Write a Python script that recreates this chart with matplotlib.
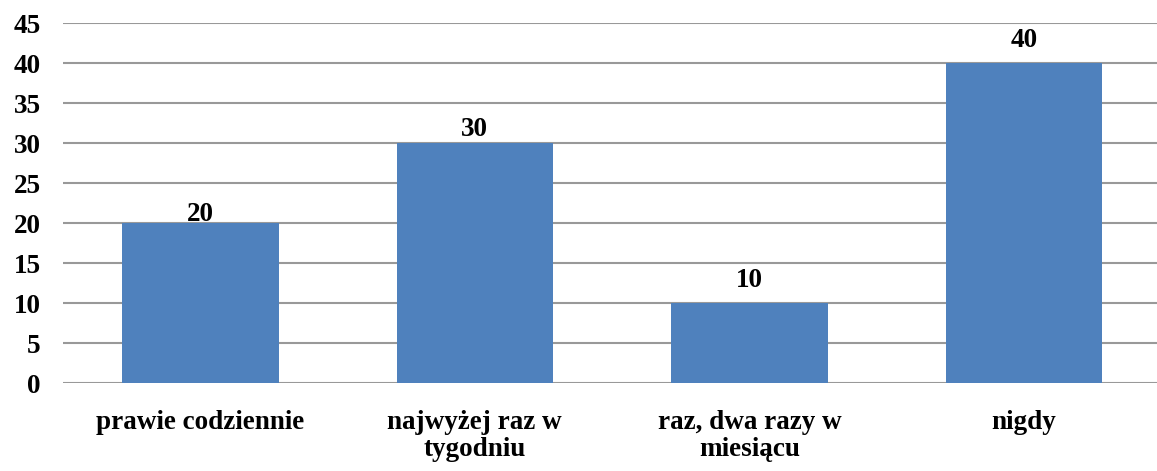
import matplotlib.pyplot as plt
import numpy as np

categories = ['prawie codziennie', 'najwyżej raz w\ntygodniu',
              'raz, dwa razy w\nmiesiącu', 'nigdy']
values = [20, 30, 10, 40]
yticks = [0, 5, 10, 15, 20, 25, 30, 35, 40, 45]

# extra lift of each value label above its bar (points)
label_lift = [2, 5, 11.5, 12]

plt.rcParams['font.family'] = ['Liberation Serif', 'DejaVu Serif']
plt.rcParams['font.weight'] = 'bold'

W, H = 1157, 471
fig = plt.figure(figsize=(W / 100, H / 100), dpi=100)
left, right = 63 / W, 1.0
bottom, top = (H - 383.3) / H, (H - 23.3) / H
ax = fig.add_axes([left, bottom, right - left, top - bottom])

x = np.arange(len(categories))
bars = ax.bar(x, values, width=0.57, color='#4F81BD', zorder=3)

for xi, v, lift in zip(x, values, label_lift):
    ax.annotate(str(v), (xi, v), xytext=(0, lift), textcoords='offset points',
                ha='center', va='baseline', fontsize=19.5, fontweight='bold',
                zorder=4)

ax.set_ylim(0, 45)
ax.set_xlim(-0.5, 3.485)
ax.set_yticks(yticks)
ax.set_xticks(x)
ax.set_xticklabels(categories, linespacing=1.1)
ax.tick_params(axis='y', length=0, pad=16, labelsize=19.5)
ax.tick_params(axis='x', length=0, pad=19, labelsize=19.5)
for lab in ax.get_xticklabels() + ax.get_yticklabels():
    lab.set_fontweight('bold')

ax.yaxis.grid(True, color='#999999', linewidth=1.5, zorder=0)
for s in ax.spines.values():
    s.set_visible(False)

plt.savefig('out.png', dpi=100)
